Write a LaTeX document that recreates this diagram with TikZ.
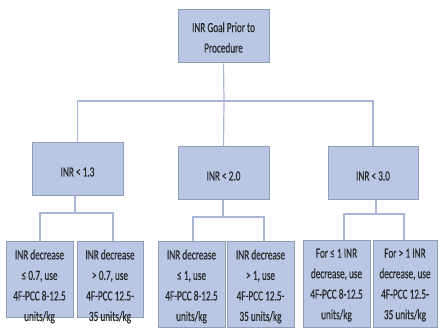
\documentclass[tikz,border=0pt]{standalone}
\usepackage{fontspec}
\setmainfont[FakeStretch=0.66,FakeBold=0.4]{Carlito}
\definecolor{boxfill}{HTML}{B9C7E5}
\definecolor{boxdraw}{HTML}{8E9CBA}
\definecolor{linec}{HTML}{A8B6D8}
\definecolor{txtc}{HTML}{2A2A2A}
\begin{document}
\begin{tikzpicture}[x=1pt,y=-1pt,
  box/.style={draw=boxdraw,fill=boxfill,line width=1pt,rectangle,inner sep=0pt},
  txt/.style={text=txtc,font=\fontsize{14}{20.5}\selectfont,align=center,inner sep=0pt},
  conn/.style={draw=linec,line width=1.2pt}]
\useasboundingbox[fill=white] (0,0) rectangle (444,331);
% level 1
\node[box,minimum width=91pt,minimum height=53pt] (top) at (223.5,36.5) {};
\node[txt] (toptxt) at (223.5,37.5) {INR Goal Prior to\\Procedure};
% level 2
\node[box,minimum width=91pt,minimum height=52pt] (la) at (77.5,169) {};
\node[box,minimum width=91pt,minimum height=52pt] (lb) at (223.5,173) {};
\node[box,minimum width=90pt,minimum height=52pt] (lc) at (373,173) {};
\node[txt] (lat) at (77.5,172) {INR < 1.3};
\node[txt] (lbt) at (223.5,176) {INR < 2.0};
\node[txt] (lct) at (373,176) {INR < 3.0};
% level 3
\node[box,minimum width=67pt,minimum height=76pt] (b1) at (39.5,279) {};
\node[box,minimum width=66pt,minimum height=76pt] (b2) at (110,279) {};
\node[box,minimum width=67pt,minimum height=86pt] (b3) at (191.5,284) {};
\node[box,minimum width=67pt,minimum height=86pt] (b4) at (260.5,284) {};
\node[box,minimum width=67pt,minimum height=87pt] (b5) at (336.5,283.5) {};
\node[box,minimum width=64pt,minimum height=87pt] (b6) at (405,283.5) {};
\node[txt,anchor=north] (t1) at ([yshift=-9pt]b1.north) {INR decrease\\≤\,0.7, use\\4F-PCC 8-12.5\\units/kg};
\node[txt,anchor=north] (t2) at ([yshift=-9pt]b2.north) {INR decrease\\>\,0.7, use\\4F-PCC 12.5-\\35 units/kg};
\node[txt,anchor=north] (t3) at ([yshift=-9pt]b3.north) {INR decrease\\≤\,1, use\\4F-PCC 8-12.5\\units/kg};
\node[txt,anchor=north] (t4) at ([yshift=-9pt]b4.north) {INR decrease\\>\,1, use\\4F-PCC 12.5-\\35 units/kg};
\node[txt,anchor=north] (t5) at ([yshift=-9pt]b5.north) {For ≤\,1 INR\\decrease, use\\4F-PCC 8-12.5\\units/kg};
\node[txt,anchor=north] (t6) at ([yshift=-9pt]b6.north) {For >\,1 INR\\decrease, use\\4F-PCC 12.5-\\35 units/kg};
% connectors level 1 -> 2
\coordinate (j1) at (224,101);
\draw[conn] (top.south) -- (j1);
\draw[conn] (la.north) |- (j1) -| (lc.north);
\draw[conn] (j1) -- (lb.north);
% connectors level 2 -> 3
\coordinate (j2) at (75,213);
\coordinate (j3) at (223,217);
\coordinate (j4) at (376,214);
\draw[conn] (la.south -| j2) -- (j2);
\draw[conn] (lb.south -| j3) -- (j3);
\draw[conn] (lc.south -| j4) -- (j4);
\draw[conn] ([xshift=0.5pt]b1.north) |- (j2) -| ([xshift=3pt]b2.north);
\draw[conn] ([xshift=1.5pt]b3.north) |- (j3) -| ([xshift=3.5pt]b4.north);
\draw[conn] ([xshift=7.5pt]b5.north) |- (j4) -| ([xshift=-1pt]b6.north);
\end{tikzpicture}
\end{document}
